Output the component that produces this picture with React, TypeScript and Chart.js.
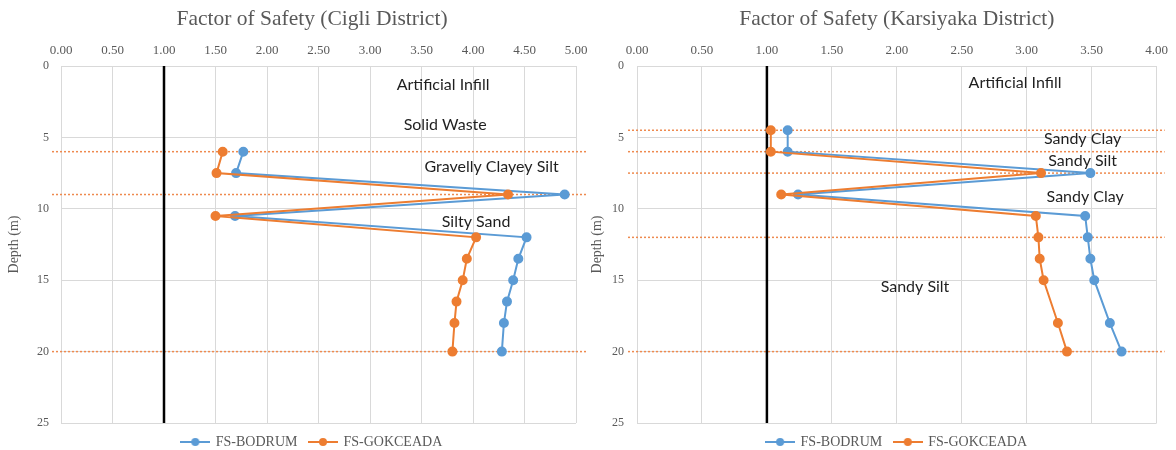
import React, { useEffect, useRef } from "react";
import { Chart, registerables } from "chart.js";

Chart.register(...registerables);

const BLUE = "#5B9BD5";
const ORANGE = "#ED7D31";
const GRID = "#D9D9D9";
const TEXT_GREY = "#595959";
const SERIF = "'Liberation Serif', 'Times New Roman', serif";
const LABEL_FONT = "Lato, 'Liberation Sans', sans-serif";

const seriesNames = ["FS-BODRUM", "FS-GOKCEADA"];
const threshold = 1;
const depthMin = 0;
const depthMax = 25;
const depthStep = 5;
const fsStep = 0.5;

// Cigli District
const cigliTitle = "Factor of Safety (Cigli District)";
const cigliFsMax = 5;
const cigliDepths = [6, 7.5, 9, 10.5, 12, 13.5, 15, 16.5, 18, 20];
const cigliBodrum = [1.77, 1.7, 4.89, 1.69, 4.52, 4.44, 4.39, 4.33, 4.3, 4.28];
const cigliGokceada = [1.57, 1.51, 4.34, 1.5, 4.03, 3.94, 3.9, 3.84, 3.82, 3.8];
const cigliLayerBounds = [6, 9, 20];
const cigliLayerNames = ["Artificial Infill", "Solid Waste", "Gravelly Clayey Silt", "Silty Sand"];
const cigliLayerNameFs = [3.71, 3.73, 4.18, 4.03];
const cigliLayerNameDepth = [1.33, 4.13, 7.05, 10.9];

// Karsiyaka District
const karsiyakaTitle = "Factor of Safety (Karsiyaka District)";
const karsiyakaFsMax = 4;
const karsiyakaDepths = [4.5, 6, 7.5, 9, 10.5, 12, 13.5, 15, 18, 20];
const karsiyakaBodrum = [1.16, 1.16, 3.49, 1.24, 3.45, 3.47, 3.49, 3.52, 3.64, 3.73];
const karsiyakaGokceada = [1.03, 1.03, 3.11, 1.11, 3.07, 3.09, 3.1, 3.13, 3.24, 3.31];
const karsiyakaLayerBounds = [4.5, 6, 7.5, 12, 20];
const karsiyakaLayerNames = ["Artificial Infill", "Sandy Clay", "Sandy Silt", "Sandy Clay", "Sandy Silt"];
const karsiyakaLayerNameFs = [2.91, 3.43, 3.43, 3.45, 2.14];
const karsiyakaLayerNameDepth = [1.21, 5.13, 6.63, 9.15, 15.47];

function makeMarker(color: string): HTMLCanvasElement {
  const c = document.createElement("canvas");
  c.width = 30;
  c.height = 10;
  const g = c.getContext("2d")!;
  g.strokeStyle = color;
  g.lineWidth = 2;
  g.beginPath();
  g.moveTo(0, 5);
  g.lineTo(30, 5);
  g.stroke();
  g.fillStyle = color;
  g.beginPath();
  g.arc(15, 5, 4, 0, Math.PI * 2);
  g.fill();
  return c;
}

type Spec = {
  title: string;
  fsMax: number;
  depths: number[];
  bodrum: number[];
  gokceada: number[];
  bounds: number[];
  names: string[];
  nameFs: number[];
  nameDepth: number[];
  yWidth: number;
  rightGap: number;
  yTitlePad: number;
  yTickPad: number;
  extLeft: number;
  extRight: number;
  fullSize: boolean;
};

function buildConfig(s: Spec): any {
  const layerPlugin = {
    id: "layerLines",
    beforeDatasetsDraw(chart: any) {
      const { ctx, chartArea, scales } = chart;
      ctx.save();
      ctx.strokeStyle = "#EE8A4F";
      ctx.lineWidth = 1.5;
      ctx.setLineDash([2, 2]);
      s.bounds.forEach((d) => {
        const py = scales.y.getPixelForValue(d);
        ctx.beginPath();
        ctx.moveTo(chartArea.left - s.extLeft, py);
        ctx.lineTo(chartArea.right + s.extRight, py);
        ctx.stroke();
      });
      ctx.restore();
    },
    afterDatasetsDraw(chart: any) {
      const { ctx, scales } = chart;
      ctx.save();
      ctx.font = "16px " + LABEL_FONT;
      ctx.fillStyle = "#1f1f1f";
      ctx.textAlign = "center";
      ctx.textBaseline = "middle";
      s.names.forEach((n, i) => {
        ctx.fillText(n, scales.x.getPixelForValue(s.nameFs[i]), scales.y.getPixelForValue(s.nameDepth[i]));
      });
      ctx.restore();
    },
  };

  const markers = [makeMarker(BLUE), makeMarker(ORANGE)];

  return {
    type: "scatter",
    data: {
      datasets: [
        {
          label: seriesNames[0],
          data: s.depths.map((d, i) => ({ x: s.bodrum[i], y: d })),
          borderColor: BLUE,
          backgroundColor: BLUE,
          borderWidth: 2,
          pointRadius: 4,
          pointHoverRadius: 4,
          showLine: true,
          order: 2,
          yAxisID: "y",
        },
        {
          label: seriesNames[1],
          data: s.depths.map((d, i) => ({ x: s.gokceada[i], y: d })),
          borderColor: ORANGE,
          backgroundColor: ORANGE,
          borderWidth: 2,
          pointRadius: 4,
          pointHoverRadius: 4,
          showLine: true,
          order: 1,
          yAxisID: "y",
        },
        {
          label: "FS = 1",
          data: [
            { x: threshold, y: depthMin },
            { x: threshold, y: depthMax },
          ],
          borderColor: "#000000",
          backgroundColor: "#000000",
          borderWidth: 2.5,
          pointRadius: 0,
          showLine: true,
          order: 3,
          yAxisID: "y",
        },
      ],
    },
    options: {
      responsive: false,
      animation: false,
      events: [],
      layout: { padding: 0 },
      scales: {
        x: {
          type: "linear",
          position: "top",
          min: 0,
          max: s.fsMax,
          afterFit: (sc: any) => {
            sc.height = 66 - (21.5 * 1.2 + 6);
          },
          ticks: {
            stepSize: fsStep,
            padding: 8,
            color: TEXT_GREY,
            font: { family: SERIF, size: 13 },
            callback: (v: any) => Number(v).toFixed(2),
          },
          grid: { color: GRID, drawTicks: false, lineWidth: 1 },
          border: { color: GRID },
        },
        y: {
          type: "linear",
          position: "left",
          reverse: true,
          min: depthMin,
          max: depthMax,
          afterFit: (sc: any) => {
            sc.width = s.yWidth;
          },
          ticks: {
            stepSize: depthStep,
            padding: s.yTickPad,
            color: TEXT_GREY,
            font: { family: SERIF, size: 12 },
          },
          grid: { color: GRID, drawTicks: false, lineWidth: 1 },
          border: { color: GRID },
          title: {
            display: true,
            text: "Depth (m)",
            color: TEXT_GREY,
            font: { family: SERIF, size: 14 },
            padding: { top: s.yTitlePad, bottom: 0 },
          },
        },
        y2: {
          type: "linear",
          position: "right",
          min: 0,
          max: 1,
          afterFit: (sc: any) => {
            sc.width = s.rightGap;
          },
          ticks: { display: false },
          grid: { display: false, drawTicks: false },
          border: { display: false },
        },
      },
      plugins: {
        tooltip: { enabled: false },
        title: {
          display: true,
          text: s.title,
          color: TEXT_GREY,
          fullSize: s.fullSize,
          font: { family: SERIF, size: 21.5, weight: "normal" },
          padding: { top: 6, bottom: 0 },
        },
        legend: {
          position: "bottom",
          fullSize: s.fullSize,
          labels: {
            usePointStyle: true,
            pointStyleWidth: 27,
            padding: 12,
            color: TEXT_GREY,
            font: { family: SERIF, size: 14 },
            generateLabels: (chart: any) =>
              chart.data.datasets.slice(0, 2).map((ds: any, i: number) => ({
                text: ds.label,
                pointStyle: markers[i],
                fillStyle: ds.borderColor,
                strokeStyle: ds.borderColor,
                fontColor: TEXT_GREY,
                lineWidth: 0,
                hidden: false,
                datasetIndex: i,
              })),
          },
        },
      },
    },
    plugins: [layerPlugin],
  };
}

function FsChart({ spec, left, width }: { spec: Spec; left: number; width: number }) {
  const ref = useRef<HTMLCanvasElement | null>(null);
  useEffect(() => {
    if (!ref.current) return;
    const chart = new Chart(ref.current, buildConfig(spec));
    return () => chart.destroy();
  }, [spec]);
  return (
    <canvas
      ref={ref}
      width={width}
      height={459}
      style={{ position: "absolute", left, top: 0, width, height: 459 }}
    />
  );
}

const cigliSpec: Spec = {
  title: cigliTitle,
  fsMax: cigliFsMax,
  depths: cigliDepths,
  bodrum: cigliBodrum,
  gokceada: cigliGokceada,
  bounds: cigliLayerBounds,
  names: cigliLayerNames,
  nameFs: cigliLayerNameFs,
  nameDepth: cigliLayerNameDepth,
  yWidth: 61,
  rightGap: 48,
  yTitlePad: 6,
  yTickPad: 12,
  extLeft: 9,
  extRight: 12,
  fullSize: true,
};

const karsiyakaSpec: Spec = {
  title: karsiyakaTitle,
  fsMax: karsiyakaFsMax,
  depths: karsiyakaDepths,
  bodrum: karsiyakaBodrum,
  gokceada: karsiyakaGokceada,
  bounds: karsiyakaLayerBounds,
  names: karsiyakaLayerNames,
  nameFs: karsiyakaLayerNameFs,
  nameDepth: karsiyakaLayerNameDepth,
  yWidth: 49,
  rightGap: 14,
  yTitlePad: 1,
  yTickPad: 13,
  extLeft: 9,
  extRight: 8,
  fullSize: false,
};

export default function App() {
  return (
    <div
      style={{
        position: "absolute",
        left: 0,
        top: 0,
        width: 1176,
        height: 450,
        overflow: "hidden",
        background: "#ffffff",
      }}
    >
      <FsChart spec={cigliSpec} left={0} width={624} />
      <FsChart spec={karsiyakaSpec} left={588} width={588} />
    </div>
  );
}
